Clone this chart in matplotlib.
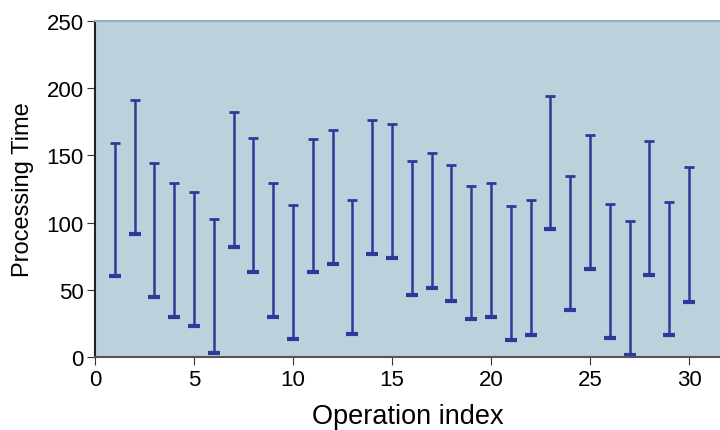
import matplotlib
matplotlib.use("Agg")
import matplotlib.pyplot as plt

plt.rcParams["font.family"] = ["Liberation Sans", "DejaVu Sans"]

# operation index and the low / high processing time of each operation
ops = list(range(1, 31))
low = [60, 91.5, 45, 30, 23, 3, 82, 63, 30, 13.5, 63, 69, 17, 76.5, 73.5,
       46, 51, 42, 28, 30, 12.5, 16.5, 95, 35, 65.5, 14, 1.5, 61, 16, 41]
high = [159.5, 191, 144.5, 129.5, 123, 103, 182.5, 163, 129.5, 113, 162.5, 169, 117, 176, 173.5,
        146, 151.5, 142.5, 127.5, 129.5, 112.5, 116.5, 194.5, 134.5, 165, 113.5, 101, 160.5, 115.5, 141]

line_col = "#2e3a9a"

fig = plt.figure(figsize=(7.2, 4.31), dpi=100)
ax = fig.add_axes([95 / 720, 1 - 358 / 431, 1 - 95 / 720 + 0.001, (358 - 22) / 431])
ax.set_facecolor("#bdd1dd")

ax.vlines(ops, low, high, color=line_col, lw=1.8)
ax.plot(ops, high, "_", color=line_col, ms=7, mew=2)
ax.plot(ops, low, "_", color=line_col, ms=9, mew=3)

ax.set_xlim(0, 31.6)
ax.set_ylim(0, 250)
ax.set_xticks([0, 5, 10, 15, 20, 25, 30])
ax.set_yticks([0, 50, 100, 150, 200, 250])
ax.tick_params(axis="both", direction="out", length=6, labelsize=16, color="#333333")
ax.tick_params(axis="x", pad=3)
ax.tick_params(axis="y", pad=2)

ax.spines["right"].set_visible(False)
ax.spines["top"].set_color("#8fb0c2")
ax.spines["top"].set_linewidth(1.5)
ax.spines["left"].set_color("#222222")
ax.spines["left"].set_linewidth(1.5)
ax.spines["bottom"].set_color("#555555")
ax.spines["bottom"].set_linewidth(1.5)

ax.set_xlabel("Operation index", fontsize=19.5, labelpad=9)
ax.set_ylabel("Processing Time", fontsize=17, labelpad=9)

fig.savefig("out.png", dpi=100)
